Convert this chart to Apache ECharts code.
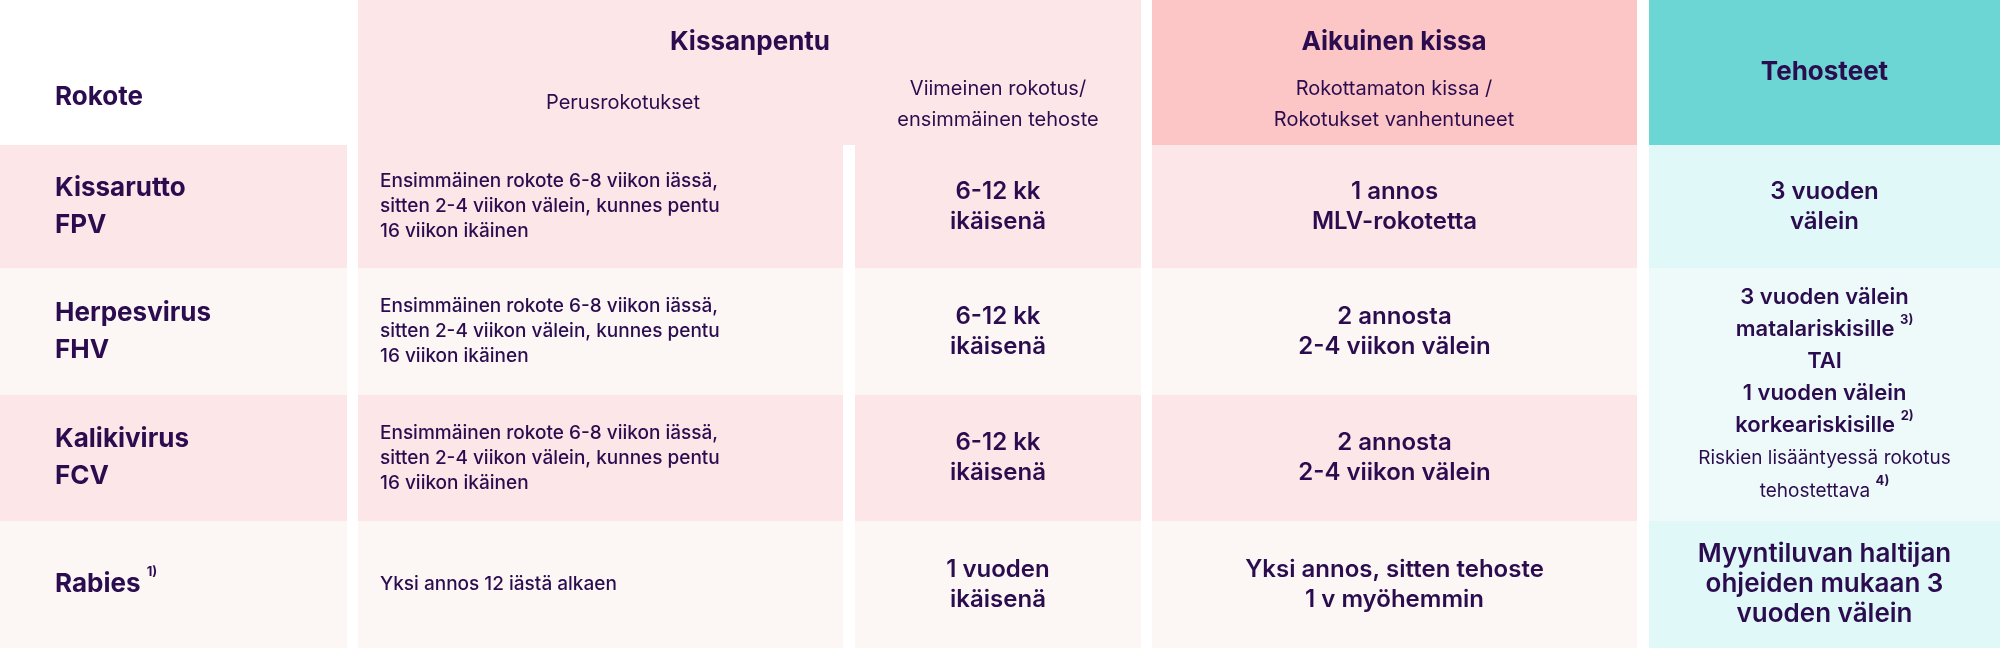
<!DOCTYPE html>
<html>
<head>
<meta charset="utf-8">
<script src="https://cdn.jsdelivr.net/npm/echarts@6/dist/echarts.min.js"></script>
<style>html,body{margin:0;padding:0;background:#fff}#c{width:2000px;height:648px}</style>
</head>
<body>
<div id="c"></div>
<script>
// column and row edges (pixels of the 2000x648 layout)
var colEdges = [[0, 347], [358, 843], [855, 1141], [1152, 1637], [1649, 2000]];
var rowEdges = [[0, 145], [145, 268], [268, 395], [395, 521], [521, 648]];

var vaccines = ['Kissarutto\nFPV', 'Herpesvirus\nFHV', 'Kalikivirus\nFCV', 'Rabies {s|1)}'];
var basic = [
  'Ensimmäinen rokote 6-8 viikon iässä,\nsitten 2-4 viikon välein, kunnes pentu\n16 viikon ikäinen',
  'Ensimmäinen rokote 6-8 viikon iässä,\nsitten 2-4 viikon välein, kunnes pentu\n16 viikon ikäinen',
  'Ensimmäinen rokote 6-8 viikon iässä,\nsitten 2-4 viikon välein, kunnes pentu\n16 viikon ikäinen',
  'Yksi annos 12 iästä alkaen'
];
var lastDose = ['6-12 kk\nikäisenä', '6-12 kk\nikäisenä', '6-12 kk\nikäisenä', '1 vuoden\nikäisenä'];
var adult = ['1 annos\nMLV-rokotetta', '2 annosta\n2-4 viikon välein', '2 annosta\n2-4 viikon välein', 'Yksi annos, sitten tehoste\n1 v myöhemmin'];
var boosters = [
  '3 vuoden\nvälein',
  '{b|3 vuoden välein}\n{b|matalariskisille }{s|3)}\n{b|TAI}\n{b|1 vuoden välein}\n{b|korkeariskisille }{s|2)}\n{n|Riskien lisääntyessä rokotus}\n{n|tehostettava }{s|4)}',
  'Myyntiluvan haltijan\nohjeiden mukaan 3\nvuoden välein'
];

var ink = '#2b0d4f';
var pink = '#fde6e8', cream = '#fcf6f5';

// cell: [c0, c1, r0, r1, fill, text, style]
var cells = [];
cells.push([0, 0, 0, 0, '#ffffff', 'Rokote', 'label']);
cells.push([1, 2, 0, 0, pink, '', 'none']);
cells.push([3, 3, 0, 0, '#fcc5c6', '', 'none']);
cells.push([4, 4, 0, 0, '#6bd6d3', 'Tehosteet', 'head']);
for (var r = 0; r < 4; r++) {
  var f = r % 2 === 0 ? pink : cream;
  cells.push([0, 0, r + 1, r + 1, f, vaccines[r], 'label']);
  cells.push([1, 1, r + 1, r + 1, f, basic[r], 'body']);
  cells.push([2, 2, r + 1, r + 1, f, lastDose[r], 'mid']);
  cells.push([3, 3, r + 1, r + 1, f, adult[r], 'mid']);
}
cells.push([4, 4, 1, 1, '#e0f8f8', boosters[0], 'mid']);
cells.push([4, 4, 2, 3, '#eefafa', boosters[1], 'rich']);
cells.push([4, 4, 4, 4, '#e0f8f8', boosters[2], 'big']);

// header texts: [centerX, y, text, style]
var headTexts = [
  [750, 42, 'Kissanpentu', 'h'],
  [623, 103, 'Perusrokotukset', 'sub'],
  [998, 104, 'Viimeinen rokotus/\nensimmäinen tehoste', 'sub'],
  [1394, 42, 'Aikuinen kissa', 'h'],
  [1394, 104, 'Rokottamaton kissa /\nRokotukset vanhentuneet', 'sub']
];

var FONT = 'Inter, "Noto Sans", sans-serif';
var styles = {
  label: { fontSize: 26, fontWeight: 700, lineHeight: 37, align: 'left' },
  head: { fontSize: 26, fontWeight: 700, lineHeight: 32, align: 'center' },
  body: { fontSize: 19, fontWeight: 500, lineHeight: 25, align: 'left' },
  mid: { fontSize: 24, fontWeight: 600, lineHeight: 30, align: 'center' },
  big: { fontSize: 26, fontWeight: 600, lineHeight: 30, align: 'center' },
  rich: { fontSize: 22, fontWeight: 600, lineHeight: 30, align: 'center' },
  none: { fontSize: 10, fontWeight: 400, lineHeight: 10, align: 'center' }
};
var richDef = {
  b: { fontSize: 22, fontWeight: 600, lineHeight: 32, fontFamily: FONT, fill: ink },
  n: { fontSize: 19, fontWeight: 400, lineHeight: 33, fontFamily: FONT, fill: ink },
  s: { fontSize: 13, fontWeight: 700, lineHeight: 22, fontFamily: FONT, fill: ink, verticalAlign: 'top', padding: [0, 0, 8, 0] }
};

var chart = echarts.init(document.getElementById('c'), null, { renderer: 'canvas' });
chart.setOption({
  animation: false,
  grid: { left: 0, right: 0, top: 0, bottom: 0 },
  xAxis: { type: 'value', min: 0, max: 2000, show: false },
  yAxis: { type: 'value', min: 0, max: 648, inverse: true, show: false },
  series: [{
    type: 'custom',
    data: cells.map(function (c, i) { return [i]; }),
    renderItem: function (params, api) {
      var c = cells[api.value(0)];
      var x0 = colEdges[c[0]][0], x1 = colEdges[c[1]][1];
      var y0 = rowEdges[c[2]][0], y1 = rowEdges[c[3]][1];
      var p0 = api.coord([x0, y0]), p1 = api.coord([x1, y1]);
      var st = styles[c[6]];
      var tx = st.align === 'left' ? p0[0] + (c[0] === 0 ? 55 : 22) : (p0[0] + p1[0]) / 2;
      return {
        type: 'group',
        children: [
          { type: 'rect', shape: { x: p0[0], y: p0[1], width: p1[0] - p0[0], height: p1[1] - p0[1] }, style: { fill: c[4] } },
          { type: 'text', x: tx, y: (p0[1] + p1[1]) / 2 + (c[6] === 'label' && c[2] === 0 ? 25 : 0),
            style: { text: c[5], fill: ink, fontFamily: FONT, fontSize: st.fontSize, fontWeight: st.fontWeight,
              lineHeight: st.lineHeight, align: st.align, verticalAlign: 'middle', rich: richDef } }
        ]
      };
    }
  }, {
    type: 'custom',
    data: headTexts.map(function (h, i) { return [i]; }),
    z: 5,
    renderItem: function (params, api) {
      var h = headTexts[api.value(0)];
      var p = api.coord([h[0], h[1]]);
      var big = h[3] === 'h';
      return { type: 'text', x: p[0], y: p[1],
        style: { text: h[2], fill: ink, fontFamily: FONT, fontSize: big ? 26 : 20, fontWeight: big ? 700 : 400,
          lineHeight: 31, align: 'center', verticalAlign: 'middle' } };
    }
  }]
});
</script>
</body>
</html>
